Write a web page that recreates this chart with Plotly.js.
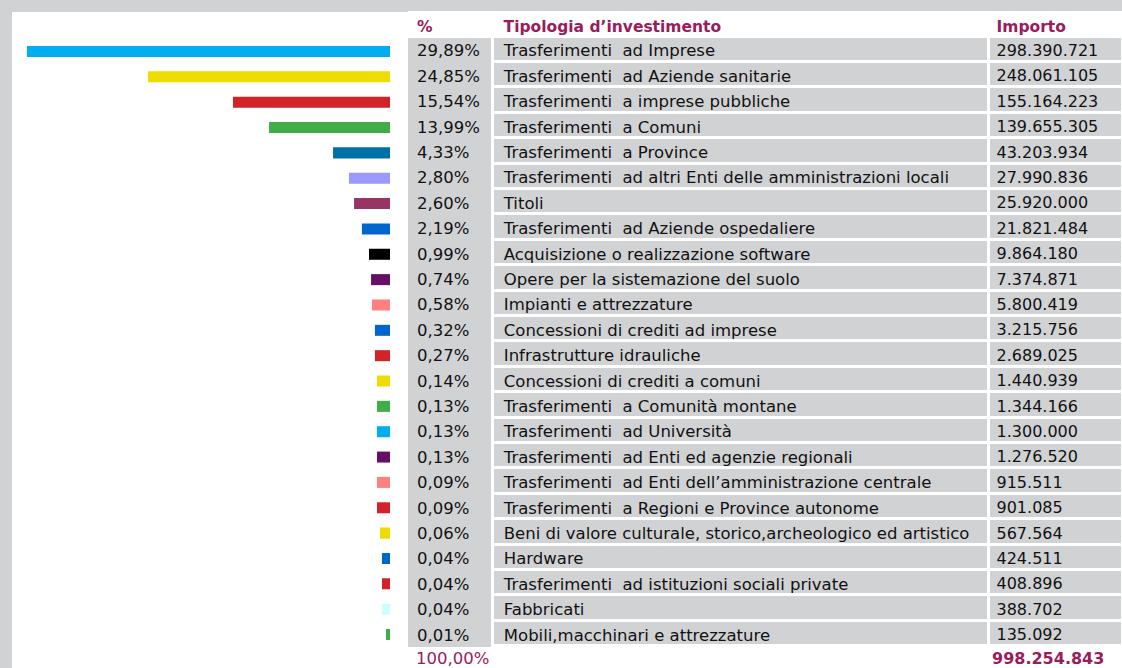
<!DOCTYPE html>
<html>
<head>
<meta charset="utf-8">
<script src="https://cdn.plot.ly/plotly-3.0.1.min.js"></script>
<style>html,body{margin:0;padding:0;background:#fff;}#chart{width:1122px;height:668px;}</style>
</head>
<body>
<div id="chart"></div>
<script>
// ---- data ----
const categories = [
  "Trasferimenti  ad Imprese",
  "Trasferimenti  ad Aziende sanitarie",
  "Trasferimenti  a imprese pubbliche",
  "Trasferimenti  a Comuni",
  "Trasferimenti  a Province",
  "Trasferimenti  ad altri Enti delle amministrazioni locali",
  "Titoli",
  "Trasferimenti  ad Aziende ospedaliere",
  "Acquisizione o realizzazione software",
  "Opere per la sistemazione del suolo",
  "Impianti e attrezzature",
  "Concessioni di crediti ad imprese",
  "Infrastrutture idrauliche",
  "Concessioni di crediti a comuni",
  "Trasferimenti  a Comunità montane",
  "Trasferimenti  ad Università",
  "Trasferimenti  ad Enti ed agenzie regionali",
  "Trasferimenti  ad Enti dell’amministrazione centrale",
  "Trasferimenti  a Regioni e Province autonome",
  "Beni di valore culturale, storico,archeologico ed artistico",
  "Hardware",
  "Trasferimenti  ad istituzioni sociali private",
  "Fabbricati",
  "Mobili,macchinari e attrezzature"
];
const percent = [29.89, 24.85, 15.54, 13.99, 4.33, 2.80, 2.60, 2.19, 0.99, 0.74, 0.58, 0.32,
                 0.27, 0.14, 0.13, 0.13, 0.13, 0.09, 0.09, 0.06, 0.04, 0.04, 0.04, 0.01];
const importo = [298390721, 248061105, 155164223, 139655305, 43203934, 27990836, 25920000,
                 21821484, 9864180, 7374871, 5800419, 3215756, 2689025, 1440939, 1344166,
                 1300000, 1276520, 915511, 901085, 567564, 424511, 408896, 388702, 135092];
// bar lengths as drawn in the picture (same units as the percentages of the largest bar)
const barLength = [29.89, 19.93, 12.93, 9.96, 4.69, 3.38, 2.96, 2.31, 1.73, 1.56, 1.48, 1.24,
                   1.24, 1.07, 1.07, 1.07, 1.07, 1.07, 1.07, 0.82, 0.66, 0.66, 0.66, 0.33];
const barColors = ["#00aeef", "#eedc00", "#d2232a", "#40ad48", "#006fa8", "#9999ff", "#993366",
                   "#0066cc", "#000000", "#660f66", "#ff8080", "#0066cc", "#d2232a", "#eedc00",
                   "#40ad48", "#00aeef", "#660f66", "#ff8080", "#d2232a", "#eedc00", "#0066cc",
                   "#d2232a", "#ccffff", "#40ad48"];
const headers = ["%", "Tipologia d’investimento", "Importo"];
const totalPercent = "100,00%";
const totalImporto = 998254843;

// ---- helpers ----
const nb = s => s.replace(/ /g, "\u00a0");
const fmtPct = v => v.toFixed(2).replace(".", ",") + "%";
const fmtNum = n => String(n).replace(/\B(?=(\d{3})+(?!\d))/g, ".");

const GRAY = "#d1d2d4";
const MAROON = "#9b1b5c";
const FONT = "'DejaVu Sans', sans-serif";
const W = 1122, H = 668;
const n = categories.length;

const col1 = percent.map(fmtPct);
const col2 = categories.map(s => "\u2009" + nb(s));
const col3 = importo.map(fmtNum);

const rowH = 25.4;
const headH = 24;

const bars = {
  type: "bar",
  orientation: "h",
  x: barLength,
  y: categories,
  marker: {color: barColors, line: {width: 0}},
  width: 0.434,
  hoverinfo: "skip",
  xaxis: "x", yaxis: "y"
};

const table = {
  type: "table",
  domain: {x: [409 / W, 1], y: [0, 1 - 12 / H]},
  columnwidth: [83.5, 496, 133.5],
  header: {
    values: headers.map(h => (h === "Tipologia d’investimento" ? "\u2009" : "") + nb(h)),
    align: "left",
    height: headH,
    fill: {color: "#ffffff"},
    line: {color: "#ffffff", width: 3},
    font: {family: FONT, size: 15.5, color: MAROON, weight: "bold"}
  },
  cells: {
    values: [col1, col2, col3],
    align: "left",
    height: rowH,
    fill: {color: GRAY},
    line: {color: [GRAY, "#ffffff", "#ffffff"], width: 3},
    font: {family: FONT, size: [16.5, 16.5, 16], color: "#111111"}
  }
};

const yTop = 38.8, yBot = 647.2;
const layout = {
  width: W, height: H,
  margin: {l: 0, r: 0, t: 0, b: 0},
  paper_bgcolor: GRAY,
  plot_bgcolor: "rgba(0,0,0,0)",
  showlegend: false,
  xaxis: {domain: [0, 390 / W], range: [32.11, 0], visible: false, fixedrange: true},
  yaxis: {domain: [1 - yBot / H, 1 - yTop / H], range: [n - 0.5, -0.5], visible: false,
          type: "category", fixedrange: true},
  shapes: [{type: "rect", xref: "paper", yref: "paper", x0: 12 / W, x1: 1, y0: 0, y1: 1 - 12 / H,
            fillcolor: "#ffffff", line: {width: 0}, layer: "below"}],
  annotations: [
    {text: totalPercent, xref: "paper", yref: "paper", x: 416 / W, y: 1 - 658.5 / H,
     xanchor: "left", yanchor: "middle", showarrow: false, borderpad: 0, borderwidth: 0,
     font: {family: FONT, size: 16.5, color: MAROON}},
    {text: fmtNum(totalImporto), xref: "paper", yref: "paper", x: 992 / W, y: 1 - 658.5 / H,
     xanchor: "left", yanchor: "middle", showarrow: false, borderpad: 0, borderwidth: 0,
     font: {family: FONT, size: 16, color: MAROON, weight: "bold"}}
  ]
};

Plotly.newPlot("chart", [bars, table], layout, {displayModeBar: false, staticPlot: true});
</script>
</body>
</html>
